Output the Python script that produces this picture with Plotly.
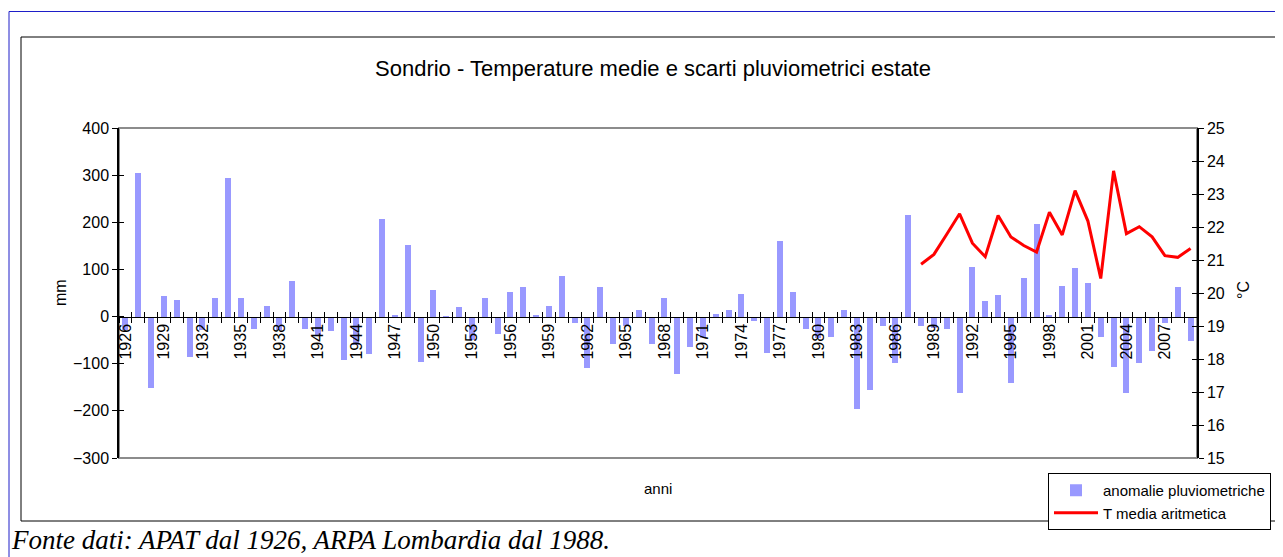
import plotly.graph_objects as go

# ---------------- data ----------------
years = list(range(1926, 2010))
precip_anomaly = [
    -28, 304, -152, 43, 35, -85, -28, 39, 293, 39,      # 1926-1935
    -27, 22, -28, 75, -27, -42, -31, -93, -60, -79,     # 1936-1945
    207, 3, 152, -97, 56, -3, 20, -50, 39, -37,         # 1946-1955
    52, 62, 3, 22, 87, -14, -110, 62, -58, -20,         # 1956-1965
    14, -58, 39, -121, -64, -45, 6, 14, 48, -9,         # 1966-1975
    -78, 161, 52, -27, -45, -43, 14, -196, -155, -20,   # 1976-1985
    -99, 215, -20, -24, -26, -162, 106, 33, 45, -141,   # 1986-1995
    81, 197, 3, 64, 104, 71, -43, -106, -162, -99,      # 1996-2005
    -74, -13, 62, -51                                   # 2006-2009
]
temp_years = list(range(1988, 2010))
temp_mean = [20.87, 21.17, 21.78, 22.40, 21.51, 21.10, 22.35, 21.70, 21.44, 21.24,
             22.45, 21.76, 23.10, 22.18, 20.44, 23.70, 21.80, 22.01, 21.70, 21.13,
             21.08, 21.35]
tick_years = list(range(1926, 2010, 3))

# ---------------- geometry helpers ----------------
OFF = 8                      # page body margin of the html page
W, H = 1283 - OFF, 557 - OFF
L_REF, R_REF, T_REF, B_REF = 119, 1197, 128, 458   # plot area in reference pixels
ML, MT = L_REF - OFF, T_REF - OFF
MR = W - (R_REF - OFF)
MB = H - (B_REF - OFF)


def px(x):
    return (x - L_REF) / (R_REF - L_REF)


def py(y):
    return (B_REF - y) / (B_REF - T_REF)


idx = list(range(len(years)))
temp_idx = [years.index(y) for y in temp_years]
tick_idx = [years.index(y) for y in tick_years]
zero_pos = (0 - (-300)) / (400 - (-300))

FONT = "Liberation Sans, Arial, sans-serif"

fig = go.Figure()
fig.add_trace(go.Bar(
    x=idx, y=precip_anomaly, name="anomalie pluviometriche",
    marker=dict(color="#9999FF", line=dict(width=0)), width=0.47,
    xaxis="x", yaxis="y"))
fig.add_trace(go.Scatter(
    x=temp_idx, y=temp_mean, mode="lines", name="T media aritmetica",
    line=dict(color="#FF0000", width=3), xaxis="x", yaxis="y2"))
# helper (invisible) traces so the tick-overlay axes are drawn
for xa, ya in [("x2", "y"), ("x", "y3"), ("x", "y4")]:
    fig.add_trace(go.Scatter(x=[None], y=[None], xaxis=xa, yaxis=ya,
                             showlegend=False, hoverinfo="skip", mode="lines"))

xtickfont = dict(family=FONT, size=16, color="black")
ytickfont = dict(family=FONT, size=16, color="black")

fig.update_layout(
    width=W, height=H, autosize=False,
    margin=dict(l=ML, r=MR, t=MT, b=MB, pad=0),
    paper_bgcolor="white", plot_bgcolor="white",
    font=dict(family=FONT, color="black"),
    bargap=0,
    title=dict(text="Sondrio - Temperature medie e scarti pluviometrici estate",
               x=(653 - OFF) / W, xanchor="center", y=1 - (68 - OFF) / H,
               yanchor="middle",
               font=dict(family=FONT, size=22, color="black")),
    xaxis=dict(range=[-0.5, len(years) - 0.5], tickmode="array",
               tickvals=tick_idx, ticktext=[str(y) for y in tick_years],
               tickangle=-90, ticks="", showline=True, linecolor="black",
               linewidth=1, anchor="free", position=zero_pos,
               showgrid=False, zeroline=False, tickfont=xtickfont,
               minor=dict(tickmode="linear", tick0=-0.5, dtick=1,
                          ticks="outside", ticklen=5, tickcolor="black",
                          tickwidth=1, showgrid=False)),
    xaxis2=dict(range=[-0.5, len(years) - 0.5], overlaying="x", anchor="free",
                position=zero_pos, tickmode="linear", tick0=-0.5, dtick=1,
                ticks="inside", ticklen=5, tickcolor="black",
                showticklabels=False, showline=False, showgrid=False,
                zeroline=False),
    yaxis=dict(range=[-300, 400], tickmode="linear", tick0=-300, dtick=100,
               ticks="outside", ticklen=5, tickcolor="black", showline=True,
               linecolor="black", linewidth=1.5, showgrid=False, zeroline=False,
               tickfont=ytickfont, anchor="x"),
    yaxis2=dict(range=[15, 25], tickmode="linear", tick0=15, dtick=1,
                overlaying="y", side="right", ticks="outside", ticklen=5,
                tickcolor="black", showline=True, linecolor="black",
                linewidth=1.5, showgrid=False, zeroline=False,
                tickfont=ytickfont, anchor="x"),
    yaxis3=dict(range=[-300, 400], tickmode="linear", tick0=-300, dtick=100,
                overlaying="y", side="left", ticks="inside", ticklen=5,
                tickcolor="black", showticklabels=False, showline=False,
                showgrid=False, zeroline=False, anchor="x"),
    yaxis4=dict(range=[15, 25], tickmode="linear", tick0=15, dtick=1,
                overlaying="y", side="right", ticks="inside", ticklen=5,
                tickcolor="black", showticklabels=False, showline=False,
                showgrid=False, zeroline=False, anchor="x"),
    legend=dict(x=px(1048), y=py(473), xanchor="left", yanchor="top",
                bordercolor="black", borderwidth=1, bgcolor="white",
                font=dict(family=FONT, size=15, color="black"),
                itemwidth=44, tracegroupgap=0),
    showlegend=True,
)

# plot-area border (grey), chart-area border (black), outer frame (blue)
fig.add_shape(type="rect", xref="paper", yref="paper", x0=0, x1=1, y0=0, y1=1,
              line=dict(color="#8C8C8C", width=2), layer="below")
fig.add_shape(type="rect", xref="paper", yref="paper",
              x0=px(21), x1=px(1281), y0=py(521), y1=py(37),
              line=dict(color="black", width=1), layer="below")
fig.add_shape(type="line", xref="paper", yref="paper",
              x0=px(9), x1=px(1300), y0=py(11.5), y1=py(11.5),
              line=dict(color="#1E1EC8", width=1))
fig.add_shape(type="line", xref="paper", yref="paper",
              x0=px(9), x1=px(9), y0=py(11.5), y1=py(580),
              line=dict(color="#1E1EC8", width=1))

# axis titles and footnote
fig.add_annotation(text="mm", xref="paper", yref="paper", x=px(60), y=py(292),
                   xanchor="center", yanchor="middle",
                   textangle=-90, showarrow=False,
                   font=dict(family=FONT, size=16, color="black"))
fig.add_annotation(text="°C", xref="paper", yref="paper", x=px(1243), y=py(290),
                   xanchor="center", yanchor="middle",
                   textangle=-90, showarrow=False,
                   font=dict(family=FONT, size=16, color="black"))
fig.add_annotation(text="anni", xref="paper", yref="paper", x=px(658), y=py(488),
                   xanchor="center", yanchor="middle", showarrow=False,
                   font=dict(family=FONT, size=15, color="black"))
fig.add_annotation(text="<i>Fonte dati: APAT dal 1926, ARPA Lombardia dal 1988.</i>",
                   xref="paper", yref="paper", x=px(9), y=py(540),
                   xanchor="left", yanchor="middle", showarrow=False,
                   font=dict(family="Liberation Serif, Times New Roman, serif",
                             size=27, color="black"))

fig.write_html("out.html")
